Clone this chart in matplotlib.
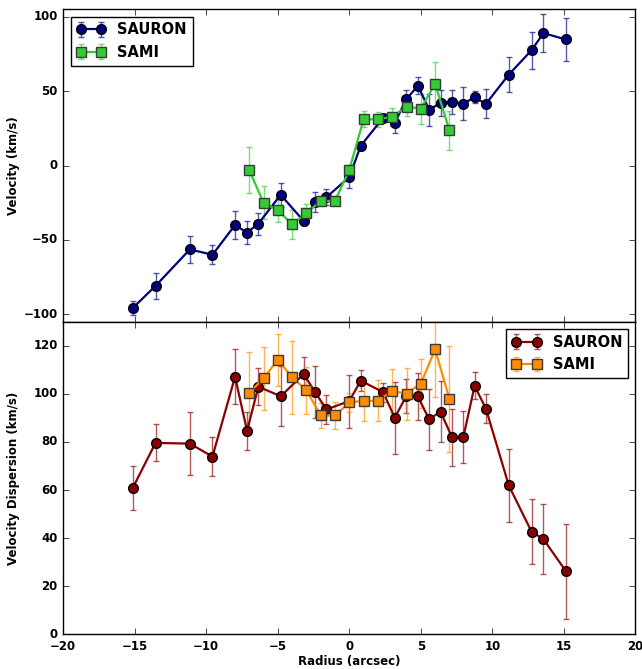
import numpy as np
import matplotlib
matplotlib.use('Agg')
import matplotlib.pyplot as plt

plt.style.use('classic')
plt.rcParams['font.family'] = 'DejaVu Sans'
plt.rcParams['font.weight'] = 'bold'
plt.rcParams['axes.labelweight'] = 'bold'

# SAURON radii (same for both panels)
r_sauron = [-15.15, -13.55, -11.15, -9.57, -7.99, -7.15, -6.36, -4.8, -3.19, -2.39, -1.6, 0.0,
            0.8, 2.36, 3.18, 3.98, 4.8, 5.58, 6.38, 7.18, 7.97, 8.76, 9.55, 11.15, 12.75, 13.57, 15.15]
v_sauron = [-95.9, -80.9, -56.4, -60.0, -40.0, -45.1, -39.1, -19.7, -37.3, -24.7, -21.3, -7.8,
            13.3, 32.0, 28.6, 44.5, 53.7, 37.5, 42.0, 42.9, 41.6, 45.8, 41.4, 61.1, 77.5, 89.0, 84.7]
ve_sauron = [4.7, 8.9, 8.9, 6.3, 9.3, 7.9, 7.5, 8.0, 2.7, 6.6, 5.2, 7.0,
             2.0, 2.5, 6.6, 6.2, 5.7, 10.8, 8.8, 8.1, 11.1, 4.0, 9.8, 11.6, 12.4, 12.8, 14.6]
s_sauron = [60.8, 79.6, 79.3, 73.9, 107.1, 84.6, 103.0, 99.0, 108.2, 100.7, 93.5, 97.0,
            105.5, 100.7, 90.1, 99.0, 98.9, 89.4, 92.6, 81.9, 81.9, 103.3, 93.9, 61.9, 42.6, 39.6, 26.2]
se_sauron = [9.2, 7.7, 13.0, 8.1, 11.4, 7.8, 7.8, 12.4, 7.3, 10.9, 6.2, 11.0,
             4.5, 4.0, 15.0, 7.0, 9.7, 12.8, 12.8, 11.8, 10.8, 5.6, 6.1, 15.0, 13.5, 14.5, 19.8]

# SAMI radii
r_sami = [-7, -6, -5, -4, -3, -2, -1, 0, 1, 2, 3, 4, 5, 6, 7]
v_sami = [-3.1, -24.9, -30.1, -39.5, -32.1, -23.8, -23.8, -2.9, 31.0, 31.0, 32.8, 39.6, 38.2, 55.1, 23.6]
ve_sami = [15.7, 10.9, 8.2, 9.9, 6.0, 3.0, 3.0, 3.0, 5.4, 5.0, 6.0, 6.0, 10.0, 14.8, 12.9]
s_sami = [100.5, 106.4, 114.2, 106.9, 101.5, 91.0, 91.0, 96.5, 97.1, 97.1, 101.1, 100.1, 104.3, 118.5, 97.9]
se_sami = [16.7, 13.0, 10.8, 15.2, 9.7, 5.4, 5.5, 4.0, 8.5, 8.5, 9.2, 10.8, 10.0, 20.0, 22.0]

fig = plt.figure(figsize=(6.42, 6.69), dpi=100, facecolor='white')
ax1 = fig.add_axes([0.0986, 0.5191, 0.891, 0.467])
ax2 = fig.add_axes([0.0986, 0.0519, 0.891, 0.4672])


def draw(ax, x, y, err, color, marker, ms, mec, label):
    line, caps, bars = ax.errorbar(x, y, yerr=err, color=color, ecolor=color, marker=marker,
                                   markersize=ms, markeredgecolor=mec, markeredgewidth=1.0,
                                   linewidth=1.6, elinewidth=1.0, capsize=2.5, label=label)
    for c in caps:
        c.set_alpha(0.65)
    for b in bars:
        b.set_alpha(0.65)


draw(ax1, r_sauron, v_sauron, ve_sauron, '#000080', 'o', 7, 'black', 'SAURON')
draw(ax1, r_sami, v_sami, ve_sami, '#32CD32', 's', 6.5, '#3a3a3a', 'SAMI')
draw(ax2, r_sauron, s_sauron, se_sauron, '#8B0000', 'o', 7, 'black', 'SAURON')
draw(ax2, r_sami, s_sami, se_sami, '#FF8C00', 's', 6.5, '#3a3a3a', 'SAMI')

for ax in (ax1, ax2):
    ax.set_xlim(-20, 20)
    ax.tick_params(direction='in', length=4, labelsize=8.5, top=True, right=True)
    for lab in ax.get_xticklabels() + ax.get_yticklabels():
        lab.set_fontweight('bold')

ax1.set_ylim(-105, 105)
ax1.set_yticks([-100, -50, 0, 50, 100])
ax1.set_xticklabels([])
ax2.set_ylim(0, 130)
ax2.set_yticks(np.arange(0, 121, 20))

ax1.set_ylabel('Velocity (km/s)', fontsize=8.5, fontweight='bold')
ax2.set_ylabel('Velocity Dispersion (km/s)', fontsize=8.5, fontweight='bold')
ax2.set_xlabel('Radius (arcsec)', fontsize=8.5, fontweight='bold')
ax1.yaxis.set_label_coords(-0.075, 0.5)
ax2.yaxis.set_label_coords(-0.075, 0.5)
ax2.xaxis.set_label_coords(0.5, -0.066)

leg_props = dict(size=10.5, weight='bold')
ax1.legend(loc='upper left', numpoints=2, prop=leg_props, fancybox=False,
           borderaxespad=0.5, handlelength=2.0, labelspacing=0.5)
ax2.legend(loc='upper right', numpoints=2, prop=leg_props, fancybox=False,
           borderaxespad=0.5, handlelength=2.0, labelspacing=0.5)

fig.savefig('out.png', dpi=100, facecolor='white')
